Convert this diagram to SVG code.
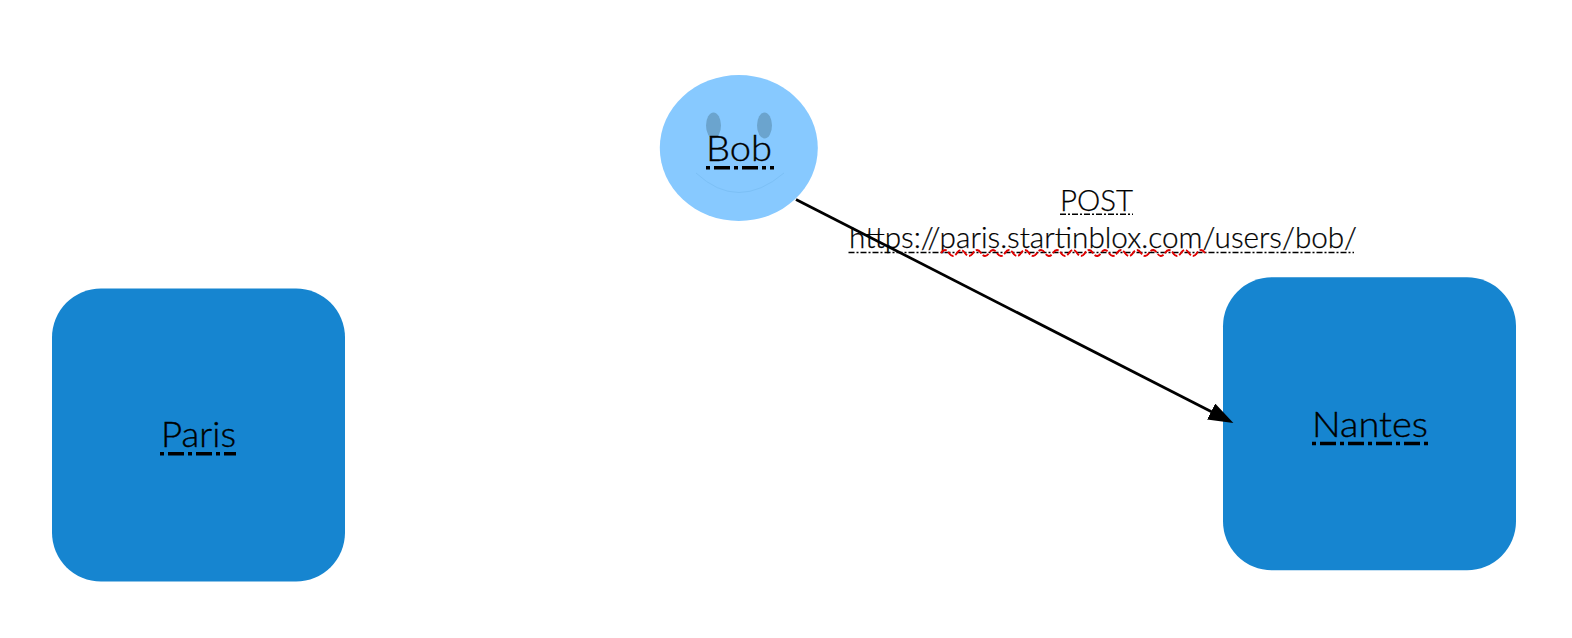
<svg xmlns="http://www.w3.org/2000/svg" width="1572" height="638" viewBox="0 0 1572 638">
  <style>
    .site { fill: #1685d0; }
    .label { font-family: "Lato", "Liberation Sans", sans-serif; font-weight: 300; fill: #000; stroke: #000; stroke-width: 0.35; text-anchor: start; }
    .node-label { font-size: 35px; }
    .edge-label { font-size: 29px; stroke-width: 0.25; }
    .ul-thick { stroke: #000; stroke-width: 3.6; stroke-dasharray: 4 4 16 4; fill: none; }
    .ul-thin { stroke: #000; stroke-width: 1.5; stroke-dasharray: 6 2 2 2; fill: none; }
    .wavy { stroke: #e00000; stroke-width: 1.9; stroke-dasharray: 7 2; fill: none; }
    .edge { stroke: #000; stroke-width: 2.7; fill: none; }
  </style>
  <defs>
    <marker id="arrow" markerUnits="userSpaceOnUse" markerWidth="26" markerHeight="20" refX="1" refY="9" orient="auto">
      <path d="M0 0 L25 9 L0 18 Z" fill="#000"/>
    </marker>
  </defs>
  <rect width="1572" height="638" fill="#fff"/>

  <g id="paris">
    <rect class="site" x="52" y="288.5" width="293" height="293" rx="49" ry="49"/>
    <text class="label node-label" x="161" y="447" textLength="75" lengthAdjust="spacingAndGlyphs">Paris</text>
    <line class="ul-thick" x1="160" y1="453.7" x2="236" y2="453.7"/>
  </g>

  <g id="nantes">
    <rect class="site" x="1223" y="277.3" width="293" height="293" rx="49" ry="49"/>
    <text class="label node-label" x="1312" y="437" textLength="116" lengthAdjust="spacingAndGlyphs">Nantes</text>
    <line class="ul-thick" x1="1312" y1="443.5" x2="1428" y2="443.5"/>
  </g>

  <g id="bob">
    <ellipse cx="738.8" cy="148" rx="79" ry="73" fill="#87c9ff"/>
    <ellipse cx="713.5" cy="125.5" rx="7.5" ry="13" fill="#6ba4ce"/>
    <ellipse cx="764.5" cy="125.5" rx="7.5" ry="13" fill="#6ba4ce"/>
    <path d="M696 173 Q738 212 784 173" fill="none" stroke="#7cc0f6" stroke-width="1"/>
    <text class="label node-label" x="706" y="161" textLength="66" lengthAdjust="spacingAndGlyphs">Bob</text>
    <line class="ul-thick" x1="706" y1="167.7" x2="774" y2="167.7"/>
  </g>

  <g id="connectors">
    <line class="edge" x1="796" y1="199.5" x2="1212" y2="412" marker-end="url(#arrow)"/>
  </g>

  <g id="edge-label">
    <text class="label edge-label" x="1060" y="211" textLength="73" lengthAdjust="spacingAndGlyphs">POST</text>
    <line class="ul-thin" x1="1060" y1="214.3" x2="1133" y2="214.3"/>
    <text class="label edge-label" x="849" y="248" textLength="508" lengthAdjust="spacingAndGlyphs">https://paris.startinblox.com/users/bob/</text>
    <line class="ul-thin" x1="848.5" y1="252.5" x2="1354" y2="252.5"/>
    <path class="wavy" d="M941 253 q4 -6 8 0 t8 0 t8 0 t8 0 t8 0 t8 0 t8 0 t8 0 t8 0 t8 0 t8 0 t8 0 t8 0 t8 0 t8 0 t8 0 t8 0 t8 0 t8 0 t8 0 t8 0 t8 0 t8 0 t8 0 t8 0 t8 0 t8 0 t8 0 t8 0 t8 0 t8 0 t8 0 t8 0"/>
  </g>
</svg>
